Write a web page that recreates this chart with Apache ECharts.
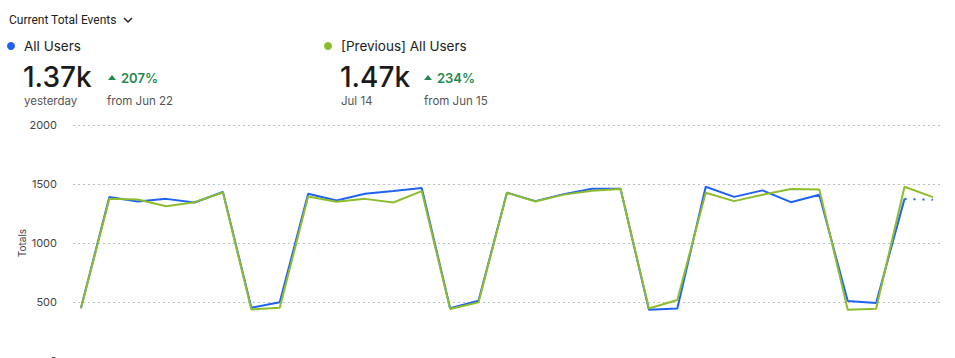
<!DOCTYPE html>
<html>
<head>
<meta charset="utf-8">
<script src="https://cdn.jsdelivr.net/npm/echarts@6/dist/echarts.min.js"></script>
<style>
html,body{margin:0;padding:0;background:#fff;}
#c{width:955px;height:358px;}
</style>
</head>
<body>
<div id="c"></div>
<script>
// Data (31 consecutive days, index 0..30)
const days = Array.from({length: 31}, (_, i) => i);
const allUsers = [449, 1389, 1351, 1374, 1343, 1432, 451, 497, 1417, 1360, 1417, 1440, 1466, 447, 511, 1426, 1355, 1414, 1460, 1460, 434, 445, 1477, 1391, 1446, 1346, 1409, 508, 491, 1374, 1366];
const prevAllUsers = [445, 1374, 1369, 1312, 1346, 1428, 437, 451, 1394, 1349, 1374, 1343, 1440, 440, 497, 1426, 1352, 1410, 1443, 1458, 445, 517, 1426, 1355, 1409, 1457, 1454, 434, 443, 1477, 1389];
const yTicks = [0, 500, 1000, 1500, 2000];
const headerTitle = 'Current Total Events';
const seriesNames = ['All Users', '[Previous] All Users'];
const bigValues = ['1.37k', '1.47k'];
const changes = ['207%', '234%'];
const subLabels = ['yesterday', 'Jul 14'];
const fromLabels = ['from Jun 22', 'from Jun 15'];

const BLUE = '#1f62f2';
const GREEN = '#8dbd2e';
const FONT = 'Inter, "Noto Sans", sans-serif';

const lastIdx = days.length - 1;
const blueSolid = days.map((d, i) => [d, i < lastIdx ? allUsers[i] : null]);
const blueDotted = days.map((d, i) => [d, i >= lastIdx - 1 ? allUsers[i] : null]);
const greenLine = days.map((d, i) => [d, prevAllUsers[i]]);

const chart = echarts.init(document.getElementById('c'), null, {renderer: 'svg'});

function header(x, color, idx, triX, pctX, fromX) {
  return [
    {type: 'circle', shape: {cx: x - 13, cy: 46, r: 4}, style: {fill: color}},
    {type: 'text', x: x, y: 46, style: {text: seriesNames[idx], font: '13.5px ' + FONT, fill: '#222', verticalAlign: 'middle'}},
    {type: 'text', x: x - 1, y: 77, style: {text: bigValues[idx], font: '500 28px ' + FONT, fill: '#1b1b1b', verticalAlign: 'middle'}},
    {type: 'polygon', shape: {points: [[triX - 4, 80], [triX + 4, 80], [triX, 75]]}, style: {fill: '#1f8a4f'}},
    {type: 'text', x: pctX, y: 78, style: {text: changes[idx], font: '600 13px ' + FONT, fill: '#1f8a4f', verticalAlign: 'middle'}},
    {type: 'text', x: x, y: 101, style: {text: subLabels[idx], font: '11.5px ' + FONT, fill: '#555', verticalAlign: 'middle'}},
    {type: 'text', x: fromX, y: 101, style: {text: fromLabels[idx], font: '11.5px ' + FONT, fill: '#555', verticalAlign: 'middle'}}
  ];
}

chart.setOption({
  animation: false,
  backgroundColor: '#fff',
  grid: {left: 73, right: 13, top: 125, height: 236, containLabel: false, outerBoundsMode: 'none'},
  xAxis: {
    type: 'value',
    min: -0.28,
    max: 30.32,
    show: false
  },
  yAxis: {
    type: 'value',
    min: yTicks[0],
    max: yTicks[yTicks.length - 1],
    interval: 500,
    name: 'Totals',
    nameLocation: 'middle',
    nameGap: 46,
    nameMoveOverlap: false,
    nameTextStyle: {fontSize: 10, color: '#444', fontFamily: FONT},
    axisLine: {show: false},
    axisTick: {show: false},
    axisLabel: {fontSize: 11, color: '#444', margin: 16, fontFamily: FONT, formatter: v => String(v)},
    splitLine: {lineStyle: {color: '#b7bfc9', type: [2, 3], width: 1}}
  },
  graphic: [
    {type: 'text', x: 9, y: 20, style: {text: headerTitle, font: '12px Roboto, sans-serif', fill: '#222', verticalAlign: 'middle'}},
    {type: 'polyline', shape: {points: [[124, 18], [128, 22], [132, 18]]}, style: {stroke: '#222', lineWidth: 1.5, fill: null}},
    ...header(24, BLUE, 0, 112, 121, 107),
    ...header(341, GREEN, 1, 428, 437, 424)
  ],
  series: [
    {
      name: seriesNames[0], type: 'line', data: blueSolid, showSymbol: false,
      lineStyle: {color: BLUE, width: 2}, itemStyle: {color: BLUE}, z: 2
    },
    {
      name: seriesNames[0] + ' (partial)', type: 'line', data: blueDotted, showSymbol: false,
      lineStyle: {color: BLUE, width: 2, type: [2, 7]}, itemStyle: {color: BLUE}, z: 2
    },
    {
      name: seriesNames[1], type: 'line', data: greenLine, showSymbol: false,
      lineStyle: {color: GREEN, width: 2}, itemStyle: {color: GREEN}, z: 3
    }
  ]
});
</script>
</body>
</html>
